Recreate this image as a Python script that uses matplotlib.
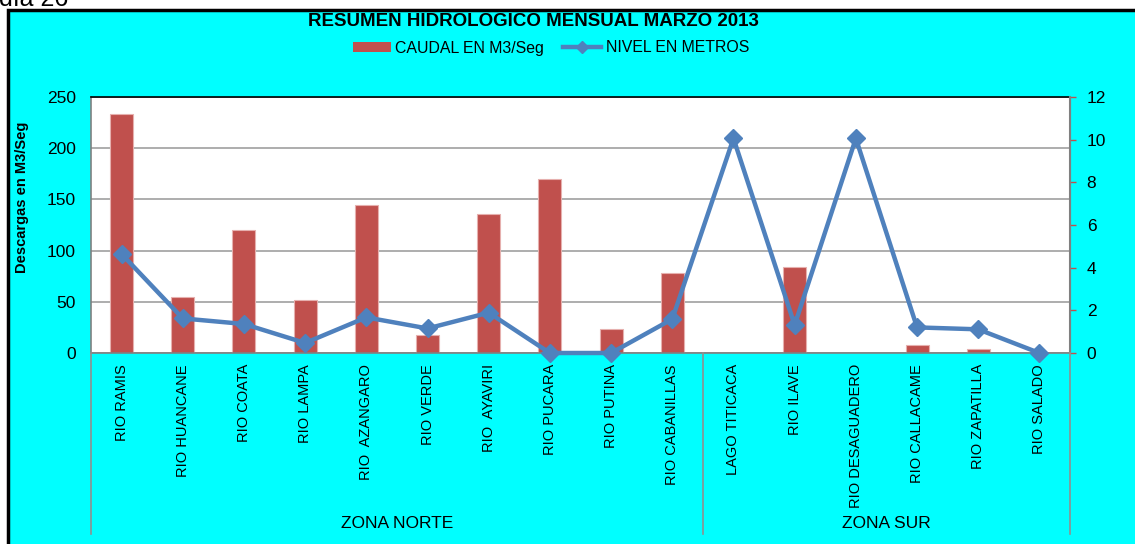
import matplotlib
matplotlib.use("Agg")
import matplotlib.pyplot as plt
from matplotlib.patches import Rectangle
from matplotlib.lines import Line2D
import numpy as np

categories = ["RIO RAMIS", "RIO HUANCANE", "RIO COATA", "RIO LAMPA", "RIO  AZANGARO",
              "RIO VERDE", "RIO  AYAVIRI", "RIO PUCARA", "RIO PUTINA", "RIO CABANILLAS",
              "LAGO TITICACA", "RIO ILAVE", "RIO DESAGUADERO", "RIO CALLACAME",
              "RIO ZAPATILLA", "RIO SALADO"]
caudal = [233, 55, 120, 52, 145, 18, 136, 170, 23, 78, 0, 84, 0, 8, 4, 0]
nivel = [4.64, 1.62, 1.36, 0.47, 1.67, 1.15, 1.89, 0.0, 0.0, 1.59, 10.06, 1.31, 10.06, 1.20, 1.11, 0.0]
zonas = ["ZONA NORTE", "ZONA SUR"]
zona_sizes = [10, 6]
left_ticks = [0, 50, 100, 150, 200, 250]
right_ticks = [0, 2, 4, 6, 8, 10, 12]

W, H = 1135, 544
fig = plt.figure(figsize=(W / 100, H / 100), dpi=100)
fig.patch.set_facecolor("white")

def fx(px):
    return px / W

def fy(py):
    return 1 - py / H

# cyan chart area with black border
fig.patches.append(Rectangle((fx(8), fy(560)), fx(1200), (560 - 9.5) / H,
                             transform=fig.transFigure, facecolor="#00FFFF",
                             edgecolor="black", linewidth=2.5, zorder=-10))
fig.text(fx(-1), fy(6), "día 26", fontsize=18, family="Liberation Sans",
         va="baseline", ha="left", color="black")

ax = fig.add_axes([fx(91), fy(353), fx(1070 - 91), (353 - 97) / H])
ax.set_facecolor("white")
x = np.arange(len(categories))
bars = ax.bar(x, caudal, width=0.375, color="#C0504D", edgecolor="#E6B0AE",
              linewidth=0.8, zorder=2)
ax.set_xlim(-0.5, len(categories) - 0.5)
ax.set_ylim(0, 250)
ax.set_yticks(left_ticks)
ax.set_yticklabels([str(t) for t in left_ticks], family="Liberation Sans", fontsize=12.5)
ax.tick_params(axis="y", length=0, pad=11)
ax.yaxis.grid(True, color="#A0A0A0", linewidth=1.2, zorder=0)
ax.set_axisbelow(True)
ax.set_xticks(x)
ax.set_xticklabels(categories, rotation=90, family="Liberation Sans", fontsize=10.5)
ax.tick_params(axis="x", length=0, pad=8)
ax.set_ylabel("Descargas en M3/Seg", fontsize=10.5, fontweight="bold",
              family="Liberation Sans")
ax.yaxis.set_label_coords((29 - 91) / (1070 - 91), (353 - 197) / 256)
for s in ["left", "bottom"]:
    ax.spines[s].set_color("#808080")
    ax.spines[s].set_linewidth(1.2)
ax.spines["top"].set_color("black")
ax.spines["top"].set_linewidth(1.2)
ax.spines["right"].set_color("#808080")

ax2 = ax.twinx()
ax2.plot(x, nivel, color="#4F81BD", linewidth=3.2, marker="D", markersize=9,
         markerfacecolor="#4F81BD", markeredgecolor="#4F81BD", zorder=3, clip_on=False)
ax2.set_ylim(0, 12)
ax2.set_yticks(right_ticks)
ax2.set_yticklabels([str(t) for t in right_ticks], family="Liberation Sans", fontsize=12.5)
ax2.tick_params(axis="y", length=4, width=1, color="#C0504D", pad=8, direction="out")
for s in ["left", "bottom", "top"]:
    ax2.spines[s].set_visible(False)
ax2.spines["right"].set_color("#808080")
ax2.spines["right"].set_linewidth(1.5)

# group separators and labels
bounds = [0]
for n in zona_sizes:
    bounds.append(bounds[-1] + n)
for b in bounds:
    xp = ax.transData.transform((b - 0.5, 0))[0]
    fig.lines.append(Line2D([xp / W, xp / W], [fy(353), fy(534)], transform=fig.transFigure,
                            color="#909090", linewidth=1.2))
for i, z in enumerate(zonas):
    xc = (bounds[i] + bounds[i + 1]) / 2 - 0.5
    xp = ax.transData.transform((xc, 0))[0]
    fig.text(xp / W, fy(524), z, ha="center", va="center", fontsize=12.5,
             family="Liberation Sans")

fig.text(fx(533), fy(21), "RESUMEN HIDROLOGICO MENSUAL MARZO 2013", ha="center", va="center",
         fontsize=13.5, fontweight="bold", family="Liberation Sans")

h1 = Rectangle((0, 0), 1, 1, facecolor="#C0504D", edgecolor="none")
h2 = Line2D([], [], color="#4F81BD", linewidth=3.2, marker="D", markersize=6)
leg = fig.legend([h1, h2], ["CAUDAL EN M3/Seg", "NIVEL EN METROS"], loc="center",
                 bbox_to_anchor=(fx(551), fy(48)), ncol=2, frameon=False,
                 prop={"family": "Liberation Sans", "size": 11.4}, handlelength=2.4,
                 handleheight=0.55, handletextpad=0.3, columnspacing=1.2)

fig.savefig("out.png", dpi=100)
